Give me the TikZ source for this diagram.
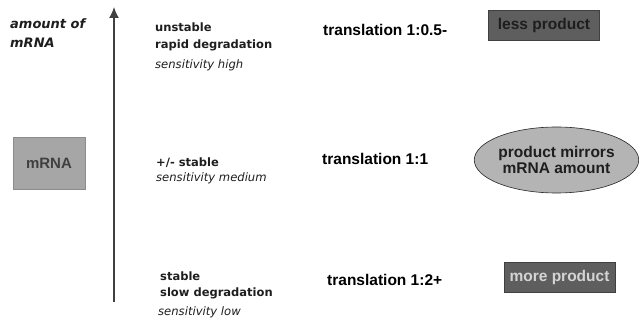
\documentclass[tikz,border=0pt]{standalone}
\usepackage{fontspec}
\usetikzlibrary{arrows.meta,shapes.geometric}
\newfontfamily\dvfont{DejaVu Sans}
\newfontfamily\arfont{Liberation Sans}
\definecolor{txtdark}{HTML}{1E1E1E}
\definecolor{boxdark}{HTML}{5E5E5E}
\definecolor{boxmid}{HTML}{A6A6A6}
\definecolor{ellfill}{HTML}{B4B4B4}
\definecolor{lighttxt}{HTML}{D4D4D4}
\tikzset{
  axislabel/.style={anchor=base west, inner sep=0pt, text=txtdark, font=\dvfont\bfseries\itshape\fontsize{13}{15}\selectfont},
  stabtext/.style={anchor=base west, inner sep=0pt, text=txtdark, font=\dvfont\bfseries\fontsize{11.5}{13}\selectfont},
  senstext/.style={anchor=base west, inner sep=0pt, text=txtdark, font=\dvfont\itshape\fontsize{11.6}{13}\selectfont},
  transtext/.style={anchor=base west, inner sep=0pt, text=black, font=\arfont\bfseries\fontsize{15.5}{17}\selectfont},
  darkbox/.style={draw=black!75, line width=0.6pt, fill=boxdark, inner sep=0pt, font=\arfont\bfseries\fontsize{15.5}{17}\selectfont},
  midbox/.style={draw=black!45, line width=0.6pt, fill=boxmid, text=black!75, inner sep=0pt, font=\arfont\bfseries\fontsize{15}{17}\selectfont},
  ellbox/.style={ellipse, draw=black!85, line width=0.6pt, fill=ellfill, text=txtdark, inner sep=0pt, font=\arfont\bfseries\fontsize{15.5}{17}\selectfont, align=center},
  axisline/.style={draw=black!75, line width=1.4pt, -{Latex[length=11pt,width=10pt]}}
}
\begin{document}
\begin{tikzpicture}[x=1pt,y=-1pt]
\useasboundingbox (0,0) rectangle (639,320);
% axis
\coordinate (abot) at (114,302);
\coordinate (atop) at (114,7);
\draw[axisline] (abot) -- (atop);
% axis label
\node[axislabel] (amt1) at (10,29) {amount of};
\node[axislabel] (amt2) at (10,48) {mRNA};
% mRNA box
\node[midbox, minimum width=72pt, minimum height=52pt] (mrna) at (49,163) {mRNA};
% top row
\node[stabtext] (t1) at (155,32) {unstable};
\node[stabtext] (t2) at (155,49) {rapid degradation};
\node[senstext] (t3) at (155,69) {sensitivity high};
\node[transtext] (tr1) at (323,36) {translation 1:0.5-};
\node[darkbox, text=txtdark, minimum width=111pt, minimum height=30pt] (less) at (544,25) {less product};
% middle row
\node[stabtext] (m1) at (156,167) {+/- stable};
\node[senstext] (m2) at (156,182) {sensitivity medium};
\node[transtext] (tr2) at (322,165) {translation 1:1};
\node[ellbox, minimum width=163pt, minimum height=66pt] (mirror) at (556.5,160) {product mirrors\\[-1pt]mRNA amount};
% bottom row
\node[stabtext] (b1) at (160,280) {stable};
\node[stabtext] (b2) at (160,296) {slow degradation};
\node[senstext] (b3) at (158,315) {sensitivity low};
\node[transtext] (tr3) at (327,285) {translation 1:2+};
\node[darkbox, text=lighttxt, minimum width=111pt, minimum height=30pt] (more) at (559.5,277) {more product};
\end{tikzpicture}
\end{document}
